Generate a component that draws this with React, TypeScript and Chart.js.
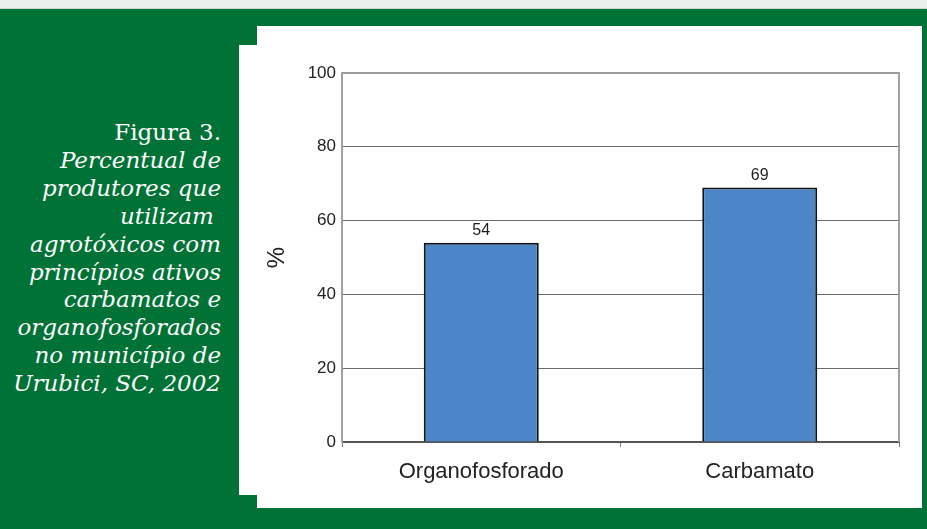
import React, { useEffect, useRef } from "react";
import { Chart, registerables } from "chart.js";

Chart.register(...registerables);

const categories = ["Organofosforado", "Carbamato"];
const percentValues = [54, 69];
const yTickValues = [0, 20, 40, 60, 80, 100];
const captionTitle = "Figura 3.";
const captionLines = [
  "Percentual de",
  "produtores que",
  "utilizam\u00a0",
  "agrotóxicos com",
  "princípios ativos",
  "carbamatos e",
  "organofosforados",
  "no município de",
  "Urubici, SC, 2002",
];

const SANS = "'Liberation Sans', Arial, Helvetica, sans-serif";

// Right-hand frame line of the plot area
const rightBorder = {
  id: "rightBorder",
  afterDraw(chart: any) {
    const { ctx, chartArea } = chart;
    ctx.save();
    ctx.strokeStyle = "#a0a0a0";
    ctx.lineWidth = 2;
    ctx.beginPath();
    ctx.moveTo(chartArea.right, chartArea.top - 1);
    ctx.lineTo(chartArea.right, chartArea.bottom);
    ctx.stroke();
    ctx.restore();
  },
};

// Value printed above each bar
const valueLabels = {
  id: "valueLabels",
  afterDatasetsDraw(chart: any) {
    const { ctx } = chart;
    const meta = chart.getDatasetMeta(0);
    const data = chart.data.datasets[0].data as number[];
    ctx.save();
    ctx.font = `16px ${SANS}`;
    ctx.fillStyle = "#1e1e1e";
    ctx.textAlign = "center";
    ctx.textBaseline = "bottom";
    meta.data.forEach((bar: any, i: number) => {
      ctx.fillText(String(data[i]), bar.x, bar.y - 4);
    });
    ctx.restore();
  },
};

export default function App() {
  const canvasRef = useRef<HTMLCanvasElement | null>(null);

  useEffect(() => {
    if (!canvasRef.current) return;
    const chart = new Chart(canvasRef.current, {
      type: "bar",
      data: {
        labels: categories,
        datasets: [
          {
            data: percentValues,
            backgroundColor: "#4a86c8",
            borderColor: "#141414",
            borderWidth: 2,
            barPercentage: 0.413,
            categoryPercentage: 1,
          },
        ],
      },
      options: {
        responsive: false,
        animation: false,
        devicePixelRatio: 1,
        layout: { padding: { left: 18, top: 43, right: 16, bottom: 10 } },
        plugins: {
          legend: { display: false },
          tooltip: { enabled: false },
          title: { display: false },
        },
        scales: {
          x: {
            offset: true,
            afterFit: (s: any) => {
              s.height = 48;
            },
            grid: {
              drawOnChartArea: false,
              drawTicks: true,
              tickLength: 5,
              color: "#808080",
              lineWidth: 1,
            },
            border: { color: "#555555", width: 2 },
            ticks: {
              font: { family: SANS, size: 22 },
              color: "#222222",
              padding: 12,
            },
          },
          y: {
            min: 0,
            max: 100,
            afterFit: (s: any) => {
              s.width = 79;
            },
            afterBuildTicks: (s: any) => {
              s.ticks = yTickValues.map((v) => ({ value: v }));
            },
            grid: {
              drawTicks: false,
              color: (c: any) => (c.tick && c.tick.value === 100 ? "#9a9a9a" : "#6a6a6a"),
              lineWidth: (c: any) => (c.tick && c.tick.value === 100 ? 2 : 1),
            },
            border: { color: "#a0a0a0", width: 2 },
            ticks: {
              font: { family: SANS, size: 17 },
              color: "#222222",
              padding: 6,
            },
            title: {
              display: true,
              text: "%",
              font: { family: SANS, size: 24 },
              color: "#222222",
              padding: 0,
            },
          },
        },
      },
      plugins: [rightBorder, valueLabels],
    });
    return () => chart.destroy();
  }, []);

  return (
    <div
      style={{
        position: "absolute",
        left: 0,
        top: 0,
        width: 927,
        height: 529,
        overflow: "hidden",
        background: "#007236",
      }}
    >
      <div style={{ position: "absolute", left: 0, top: 0, width: 927, height: 8, background: "#e9f0e9" }} />
      <div style={{ position: "absolute", left: 0, top: 8, width: 927, height: 1, background: "#c5d6c8" }} />
      <div style={{ position: "absolute", left: 257, top: 26, width: 665, height: 482, background: "#ffffff" }} />
      <div style={{ position: "absolute", left: 239, top: 45, width: 20, height: 450, background: "#ffffff" }} />
      <div
        style={{
          position: "absolute",
          left: 0,
          top: 119,
          width: 221,
          textAlign: "right",
          color: "#ffffff",
          fontFamily: "'DejaVu Serif', serif",
          fontSize: 23,
          lineHeight: "27.9px",
          whiteSpace: "pre",
        }}
      >
        <div>{captionTitle}</div>
        {captionLines.map((line) => (
          <div key={line} style={{ fontStyle: "italic" }}>
            {line}
          </div>
        ))}
      </div>
      <canvas
        ref={canvasRef}
        width={670}
        height={470}
        style={{ position: "absolute", left: 245, top: 30, width: 670, height: 470 }}
      />
    </div>
  );
}
